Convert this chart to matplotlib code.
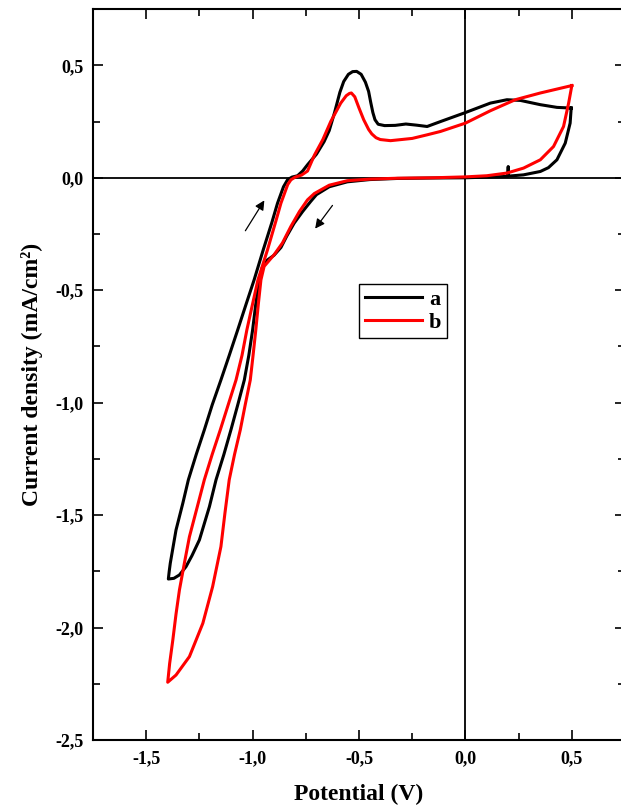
import matplotlib
matplotlib.use("Agg")
import matplotlib.pyplot as plt
from matplotlib.ticker import MultipleLocator, FuncFormatter

# curve a (black): cathodic sweep from +0.5 V, then return sweep
pot_a = [0.497, 0.492, 0.469, 0.43, 0.39, 0.352, 0.273, 0.21, 0.202, 0.201, 0.199, 0.195, 0.1, 0.0,
         -0.15, -0.32, -0.45, -0.555, -0.64, -0.70, -0.727, -0.765, -0.805, -0.84, -0.867, -0.90,
         -0.93, -0.955, -0.969, -0.985, -1.0, -1.018, -1.039, -1.07, -1.102, -1.135, -1.172,
         -1.203, -1.25, -1.285, -1.313, -1.344, -1.37, -1.396,
         -1.392, -1.387, -1.36, -1.328, -1.302, -1.265, -1.227, -1.19, -1.149, -1.11, -1.07, -1.03,
         -0.993, -0.95, -0.91, -0.883, -0.855, -0.836,
         -0.815, -0.789, -0.765, -0.742, -0.70, -0.664, -0.64, -0.615, -0.59, -0.572, -0.55, -0.53,
         -0.511, -0.49, -0.47, -0.455, -0.445, -0.435, -0.425, -0.41, -0.38, -0.33, -0.28, -0.23,
         -0.18, -0.117, 0.0, 0.117, 0.195, 0.258, 0.352, 0.43, 0.497]
cur_a = [0.31, 0.243, 0.154, 0.08, 0.045, 0.028, 0.013, 0.008, 0.008, 0.05, 0.008, 0.006, 0.003, 0.0,
         -0.001, -0.003, -0.008, -0.018, -0.04, -0.075, -0.105, -0.15, -0.202, -0.26, -0.31, -0.345,
         -0.365, -0.40, -0.454, -0.56, -0.676, -0.79, -0.899, -1.01, -1.121, -1.23, -1.343,
         -1.462, -1.61, -1.68, -1.729, -1.766, -1.781, -1.784,
         -1.75, -1.714, -1.566, -1.447, -1.343, -1.23, -1.121, -1.01, -0.899, -0.79, -0.676, -0.56,
         -0.454, -0.32, -0.2, -0.113, -0.04, -0.009,
         0.003, 0.009, 0.03, 0.058, 0.105, 0.161, 0.21, 0.29, 0.38, 0.428, 0.46, 0.472,
         0.473, 0.46, 0.425, 0.384, 0.335, 0.29, 0.258, 0.238, 0.232, 0.233, 0.239, 0.234,
         0.228, 0.25, 0.29, 0.332, 0.347, 0.344, 0.325, 0.313, 0.31]

# curve b (red)
pot_b = [0.50, 0.485, 0.461, 0.414, 0.352, 0.273, 0.195, 0.1, 0.04, 0.0, -0.15, -0.32, -0.45,
         -0.555, -0.64, -0.71, -0.742, -0.78, -0.82, -0.86, -0.899, -0.946, -0.961, -0.973, -0.985,
         -0.998, -1.011, -1.035, -1.058, -1.085, -1.11, -1.13, -1.149, -1.188, -1.234, -1.297,
         -1.36, -1.399,
         -1.39, -1.375, -1.36, -1.344, -1.32, -1.297, -1.262, -1.227, -1.19, -1.152, -1.115, -1.078,
         -1.05, -1.027, -1.0, -0.975, -0.93, -0.89, -0.867, -0.835, -0.82, -0.80, -0.77, -0.742, -0.71,
         -0.67, -0.633, -0.586, -0.56, -0.545, -0.536, -0.52, -0.50, -0.478, -0.455, -0.44, -0.42,
         -0.40, -0.352, -0.25, -0.18, -0.117, 0.0, 0.117, 0.234, 0.352, 0.50]
cur_b = [0.41, 0.332, 0.228, 0.139, 0.08, 0.043, 0.021, 0.009, 0.006, 0.004, 0.0, -0.002, -0.006,
         -0.013, -0.033, -0.07, -0.098, -0.15, -0.216, -0.29, -0.342, -0.394, -0.454, -0.56, -0.676,
         -0.79, -0.899, -1.01, -1.121, -1.23, -1.343, -1.49, -1.64, -1.818, -1.981, -2.129,
         -2.211, -2.243,
         -2.16, -2.055, -1.94, -1.833, -1.71, -1.596, -1.47, -1.343, -1.23, -1.121, -1.01, -0.899,
         -0.79, -0.676, -0.56, -0.454, -0.32, -0.19, -0.113, -0.03, -0.009, 0.003, 0.012, 0.03, 0.10,
         0.17, 0.25, 0.332, 0.365, 0.375, 0.377, 0.36, 0.31, 0.258, 0.215, 0.195, 0.178,
         0.17, 0.165, 0.175, 0.191, 0.206, 0.243, 0.298, 0.347, 0.377, 0.41]

labels = ['a', 'b']
colors = ['black', 'red']

plt.rcParams['font.family'] = ['Liberation Serif', 'DejaVu Serif']
plt.rcParams['font.weight'] = 'bold'

fig = plt.figure(figsize=(6.21, 8.05), dpi=100)
ax = fig.add_axes([0.1498, 0.0807, 0.8567, 0.908])

ax.axhline(0, color='black', lw=1.3, zorder=1)
ax.axvline(0, color='black', lw=1.3, zorder=1)

for x, y, lab, c in zip([pot_a, pot_b], [cur_a, cur_b], labels, colors):
    ax.plot(x, y, color=c, lw=2.2, label=lab, solid_joinstyle='round', zorder=3)

ax.annotate('', xy=(-0.938, -0.090), xytext=(-1.041, -0.246),
            arrowprops=dict(arrowstyle='-|>', color='black', lw=0.9, mutation_scale=14))
ax.annotate('', xy=(-0.714, -0.236), xytext=(-0.617, -0.113),
            arrowprops=dict(arrowstyle='-|>', color='black', lw=0.9, mutation_scale=14))

ax.set_xlim(-1.75, 0.75)
ax.set_ylim(-2.5, 0.75)
ax.xaxis.set_major_locator(MultipleLocator(0.5))
ax.xaxis.set_minor_locator(MultipleLocator(0.25))
ax.yaxis.set_major_locator(MultipleLocator(0.5))
ax.yaxis.set_minor_locator(MultipleLocator(0.25))
fmt = FuncFormatter(lambda v, p: ('%.1f' % v).replace('.', ','))
ax.xaxis.set_major_formatter(fmt)
ax.yaxis.set_major_formatter(fmt)
ax.set_xticks([-1.5, -1.0, -0.5, 0.0, 0.5])

ax.tick_params(which='both', direction='in', top=True, right=True, width=1.2)
ax.tick_params(which='major', length=7, pad=7, labelsize=13)
ax.tick_params(which='minor', length=5)
for s in ax.spines.values():
    s.set_linewidth(1.5)

ax.set_xlabel('Potential (V)', fontsize=17, fontweight='bold', labelpad=12)
ax.set_ylabel('Current density (mA/cm²)', fontsize=17, fontweight='bold', labelpad=9)

leg = ax.legend(loc='upper left', bbox_to_anchor=(0.5, 0.624), borderaxespad=0,
                fancybox=False, edgecolor='black', framealpha=1, fontsize=16,
                handlelength=2.6, handletextpad=0.3, labelspacing=0.1, borderpad=0.25)
leg.get_frame().set_linewidth(1.0)

fig.savefig('out.png', dpi=100)
